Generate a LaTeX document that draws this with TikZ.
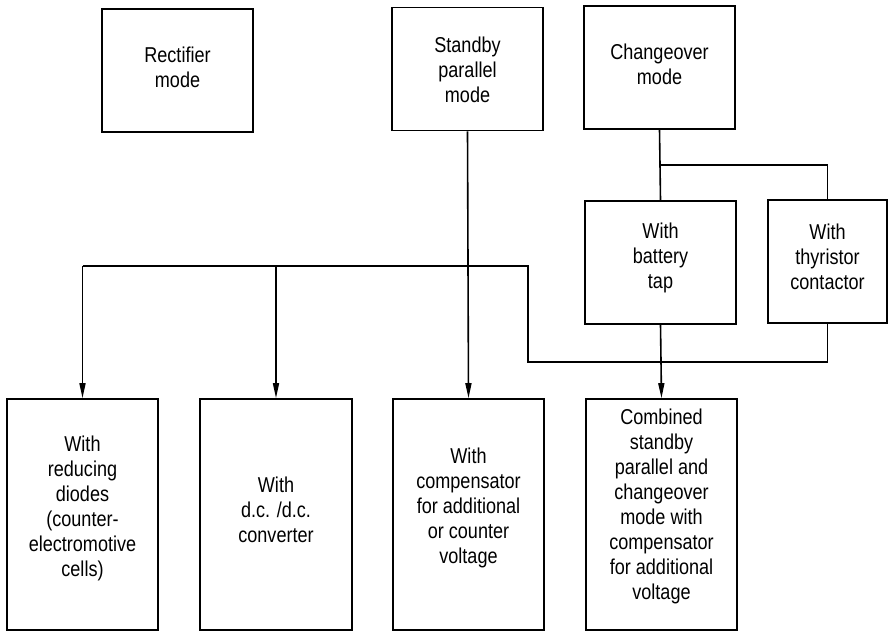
\documentclass[tikz,border=0pt]{standalone}
\usepackage{fontspec}
\setmainfont[FakeStretch=0.84]{Liberation Sans}
\usetikzlibrary{arrows.meta}
\begin{document}
\begin{tikzpicture}[x=1pt,y=-1pt,
  line width=1.6pt,
  box/.style={draw, line width=1.6pt, rectangle, inner sep=0pt},
  topbox/.style={box, minimum width=151pt, minimum height=123pt},
  lowbox/.style={box, minimum width=151pt, minimum height=231pt},
  txt/.style={align=center, inner sep=0pt, font=\fontsize{21.5}{25}\selectfont},
  arr/.style={-{Triangle[length=15pt,width=6pt]}}
]
\useasboundingbox (0,0) rectangle (890,633);

% upper row
\node[topbox] (rect) at (177.5,70.5) {};
\node[topbox] (std)  at (467.5,69)   {};
\node[topbox] (chg)  at (659.5,67.5) {};
\node[txt] (rect-t) at (177.5,67.5) {Rectifier\\mode};
\node[txt] (std-t)  at (467.5,70)   {Standby\\parallel\\mode};
\node[txt] (chg-t)  at (659.5,64.5) {Changeover\\mode};

% changeover variants
\node[topbox] (bat) at (660.5,262.5) {};
\node[topbox, minimum width=119pt] (thy) at (827.5,261.5) {};
\node[txt] (bat-t) at (660.5,257.5) {With\\battery\\tap};
\node[txt] (thy-t) at (827.5,256.5) {With\\thyristor\\contactor};

% lower row
\node[lowbox] (b1) at (82.5,514.5) {};
\node[lowbox, minimum width=152pt] (b2) at (276,514.5) {};
\node[lowbox] (b3) at (468.5,514.5) {};
\node[lowbox] (b4) at (661.5,514.5) {};
\node[txt] (b1-t) at (82.5,508.5) {With\\reducing\\diodes\\(counter-\\electromotive\\cells)};
\node[txt] (b2-t) at (276,509.5)  {With\\d.c. /d.c.\\converter};
\node[txt] (b3-t) at (468.5,508)  {With\\compensator\\for additional\\or counter\\voltage};
\node[txt] (b4-t) at (661.5,506.5) {Combined\\standby\\parallel and\\changeover\\mode with\\compensator\\for additional\\voltage};

% branch points
\coordinate (fork) at (chg.south |- 0,165);
\coordinate (busL) at (b1.north |- 0,266);
\coordinate (busM) at (b2.north |- 0,266);
\coordinate (busR) at (528,266);
\coordinate (lowL) at (528,362);

% changeover to its two variants
\draw (chg.south) -- (bat.north);
\draw (fork) -| (thy.north);

% common bus feeding the lower row
\draw (busL) -- (busR) -- (lowL) -| (thy.south);
\draw[arr] (busL) -- (b1.north);
\draw[arr] (busM) -- (b2.north);
\draw[arr] (std.south) -- (b3.north);
\draw[arr] (bat.south) -- (b4.north);
\end{tikzpicture}
\end{document}
